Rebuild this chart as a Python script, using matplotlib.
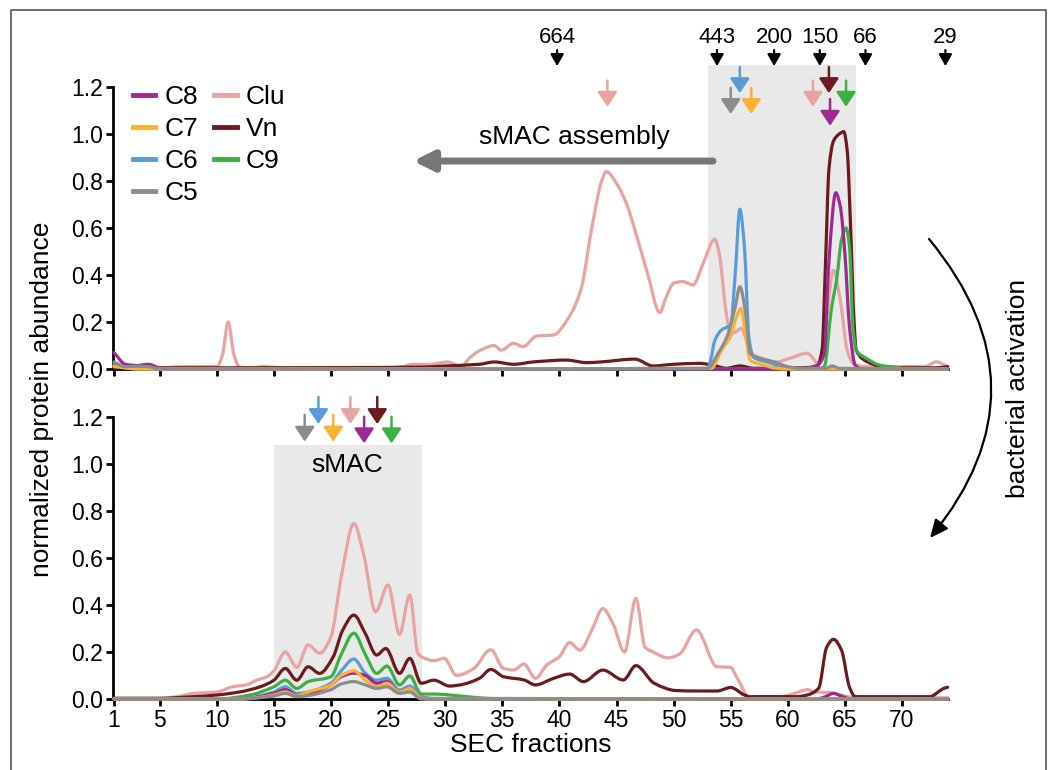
import matplotlib
matplotlib.use('Agg')
import matplotlib.pyplot as plt
from matplotlib.patches import Rectangle, FancyArrowPatch, PathPatch
from matplotlib.lines import Line2D
from matplotlib.path import Path

plt.rcParams['font.family'] = ['Liberation Sans', 'DejaVu Sans']

# ---- data: (SEC fraction, normalized abundance) ----
# upper panel (before activation)
clu_top = [(1,0.01),(2,0.005),(5,0.005),(7,0.01),(9,0.01),(10,0.01),(10.5,0.06),(11,0.20),(11.5,0.06),(12,0.008),
           (13,0.005),(14,0.01),(16,0.005),(20,0.005),(25,0.005),(26,0.008),(27.2,0.02),(28.7,0.02),(30.2,0.03),
           (31.4,0.012),(32.2,0.05),(33.1,0.08),(34.3,0.1),(34.9,0.08),(36,0.109),(36.8,0.095),(38,0.14),
           (39.5,0.145),(40.7,0.21),(41.9,0.34),(42.8,0.59),(43.7,0.80),(44.1,0.84),(45,0.79),(45.9,0.70),
           (46.8,0.56),(47.7,0.41),(48.8,0.24),(49.3,0.30),(50,0.365),(50.8,0.372),(51.7,0.358),(52.6,0.45),
           (53.6,0.553),(54,0.49),(54.6,0.24),(55,0.15),(55.5,0.16),(55.9,0.173),(56.8,0.067),(57.7,0.046),
           (59,0.03),(60.2,0.046),(61.7,0.067),(62.7,0.024),(63.3,0.18),(64,0.42),(64.6,0.29),(65.2,0.08),
           (65.8,0.02),(67,0.01),(72,0.01),(73,0.03),(74,0.01)]
vn_top = [(1,0.005),(12,0.005),(28,0.008),(30,0.013),(33,0.02),(34.3,0.03),(36,0.02),(37.7,0.03),(40.6,0.038),
          (42.4,0.027),(43.6,0.03),(46.6,0.042),(48.2,0.013),(50,0.02),(52.2,0.024),(53.4,0.017),(54.6,0.003),
          (55.8,0.013),(57,0.003),(62.5,0.008),(63,0.08),(63.3,0.45),(63.6,0.85),(64,0.97),(64.5,1.0),
          (64.9,1.01),(65.2,0.93),(65.5,0.6),(65.8,0.2),(66,0.08),(67,0.03),(68,0.012),(69,0.005),(73,0.005),(74,0.01)]
c9_top = [(1,0.02),(2,0.005),(3,0.0),(62.6,0.0),(63.2,0.01),(63.8,0.25),(64.3,0.39),(64.7,0.55),(65.1,0.6),
          (65.4,0.52),(65.7,0.18),(66,0.08),(66.9,0.045),(68,0.017),(69.5,0.007),(70.5,0.0),(74,0.0)]
c6_top = [(1,0.015),(2,0.008),(3,0.005),(4,0.0),(53,0.0),(53.3,0.05),(53.6,0.12),(54.2,0.166),(55,0.19),
          (55.4,0.408),(55.8,0.68),(56.2,0.52),(56.6,0.13),(57,0.05),(58.2,0.03),(59.7,0.007),(60.5,0.0),(74,0.0)]
c8_top = [(1,0.07),(2,0.02),(3,0.015),(4,0.02),(5,0.005),(6,0.0),(61,0.0),(62.6,0.017),(63.2,0.067),(63.6,0.46),
          (64.2,0.75),(64.6,0.69),(65,0.49),(65.4,0.18),(65.9,0.017),(66.5,0.0),(74,0.0)]
c7_top = [(1,0.01),(2,0.005),(3,0.0),(53.3,0.003),(54.2,0.08),(55,0.14),(55.5,0.22),(55.9,0.257),(56.3,0.151),
          (56.7,0.038),(57.9,0.017),(59,0.003),(60,0.0),(74,0.0)]
c5_top = [(1,0.03),(2,0.01),(3,0.012),(4,0.01),(5,0.0),(53,0.003),(53.9,0.067),(54.7,0.14),(55.4,0.265),
          (55.8,0.35),(56.3,0.24),(56.7,0.067),(57.6,0.045),(58.8,0.03),(60,0.01),(61.1,0.003),(63.3,0.003),
          (63.9,0.013),(64.5,0.003),(74,0.0)]

# lower panel (after bacterial activation)
clu_bot = [(1,0.003),(5,0.003),(6.5,0.01),(8,0.024),(10,0.03),(11.4,0.052),(12.6,0.06),(13.5,0.08),(14.4,0.095),
           (15,0.12),(16,0.20),(17,0.135),(18,0.23),(19,0.195),(20,0.265),(20.9,0.52),(22,0.747),(22.9,0.606),
           (23.9,0.371),(25,0.485),(26,0.275),(26.9,0.443),(27.6,0.195),(28.2,0.173),(29,0.163),(29.9,0.173),
           (31,0.10),(32.5,0.13),(34,0.21),(35.1,0.13),(36,0.123),(36.9,0.149),(37.9,0.088),(38.9,0.145),
           (40,0.18),(40.9,0.24),(41.8,0.208),(42.9,0.30),(43.8,0.385),(44.7,0.32),(45.7,0.20),(46.7,0.428),
           (47.5,0.22),(48.2,0.2),(49.5,0.175),(50.5,0.19),(52,0.294),(53.8,0.137),(55,0.135),(55.5,0.095),
           (56.7,0.005),(57.8,0.01),(59.3,0.01),(60.8,0.027),(61.7,0.04),(62.3,0.03),(63.7,0.027),(64.6,0.017),
           (65.8,0.006),(74,0.005)]
vn_bot = [(1,0.003),(5,0.003),(8,0.01),(10,0.017),(12,0.03),(13.8,0.052),(15,0.08),(16,0.13),(17,0.08),(18,0.137),
          (19,0.109),(20.2,0.18),(21,0.29),(22,0.357),(23,0.279),(24,0.187),(24.8,0.215),(26,0.109),(26.9,0.173),
          (27.9,0.067),(29,0.08),(30.4,0.055),(31.3,0.06),(33,0.088),(34,0.126),(35.1,0.095),(36.9,0.081),
          (37.9,0.06),(39.5,0.088),(40.9,0.106),(42.1,0.074),(43.8,0.123),(45.6,0.081),(46.7,0.142),(48.3,0.067),
          (50.2,0.036),(52,0.034),(53.8,0.034),(55,0.049),(56.2,0.017),(56.7,0.01),(60.8,0.01),(61.7,0.017),
          (62.7,0.046),(63.4,0.22),(64,0.254),(64.7,0.208),(65.4,0.05),(65.9,0.01),(72.4,0.01),(73.7,0.046),(74,0.05)]
c9_bot = [(1,0.0),(10,0.0),(12.9,0.017),(15,0.052),(16,0.08),(17,0.045),(18,0.074),(20,0.095),(20.9,0.19),
          (22,0.28),(23,0.19),(24,0.109),(24.9,0.14),(26,0.06),(26.9,0.098),(27.9,0.021),(29,0.021),(31.9,0.01),
          (33,0.005),(35,0.0),(74,0.0)]
c6_bot = [(1,0.0),(12,0.0),(15,0.03),(16,0.052),(17,0.024),(20,0.067),(20.9,0.12),(22,0.17),(23,0.11),(24,0.08),
          (24.9,0.088),(26,0.038),(26.9,0.055),(27.9,0.01),(29,0.003),(74,0.0)]
c8_bot = [(1,0.0),(12,0.0),(15,0.024),(16,0.04),(17,0.015),(20,0.06),(20.9,0.095),(22,0.11),(23,0.10),(24,0.067),
          (24.9,0.074),(26,0.03),(26.9,0.045),(27.9,0.003),(29,0.0),(62.5,0.0),(63.3,0.01),(64,0.024),(64.8,0.01),
          (65.5,0.0),(74,0.0)]
c7_bot = [(1,0.0),(12,0.0),(15,0.017),(16,0.03),(17,0.013),(18,0.03),(20,0.06),(20.9,0.10),(22,0.12),(23,0.08),
          (24,0.052),(24.9,0.067),(26,0.03),(26.9,0.045),(27.9,0.003),(29,0.0),(74,0.0)]
c5_bot = [(1,0.0),(12,0.0),(15,0.013),(16,0.024),(17,0.01),(20,0.04),(20.9,0.064),(22,0.074),(23,0.06),(24,0.045),
          (24.9,0.052),(26,0.024),(26.9,0.03),(27.9,0.0),(74,0.0)]

# names, colours (drawing order: Clu first, C5 last)
names = ['Clu', 'Vn', 'C9', 'C6', 'C8', 'C7', 'C5']
colors = {'C8': '#9c2a90', 'C7': '#f9b233', 'C6': '#5b9bd5', 'C5': '#8c8c8c',
          'Clu': '#e8a3a3', 'Vn': '#6b1a1f', 'C9': '#3cb043'}
top_series = [clu_top, vn_top, c9_top, c6_top, c8_top, c7_top, c5_top]
bot_series = [clu_bot, vn_bot, c9_bot, c6_bot, c8_bot, c7_bot, c5_bot]

# molecular weight markers (kDa) and their elution fraction
mw_labels = ['664', '443', '200', '150', '66', '29']
mw_fracs = [39.8, 53.8, 58.8, 62.8, 66.8, 73.8]

# elution peaks marked with coloured arrows: (protein, fraction, arrow top, arrow tip)
top_arrows = [('Clu', 44.2, 1.227, 1.116), ('C6', 55.8, 1.285, 1.174), ('C5', 55.0, 1.196, 1.085),
              ('C7', 56.8, 1.196, 1.085), ('Clu', 62.2, 1.227, 1.116), ('Vn', 63.6, 1.285, 1.174),
              ('C9', 65.1, 1.227, 1.116), ('C8', 63.7, 1.149, 1.035)]
bot_arrows = [('C5', 17.7, 1.209, 1.095), ('C6', 18.9, 1.285, 1.170), ('C7', 20.2, 1.209, 1.095),
              ('Clu', 21.7, 1.285, 1.170), ('C8', 22.9, 1.201, 1.088), ('Vn', 24.05, 1.285, 1.170),
              ('C9', 25.3, 1.201, 1.088)]

xticks = [1, 5, 10, 15, 20, 25, 30, 35, 40, 45, 50, 55, 60, 65, 70]
yticks = [0.0, 0.2, 0.4, 0.6, 0.8, 1.0, 1.2]

fig = plt.figure(figsize=(10.49, 7.70), dpi=100)
W, H = 1049, 770
ax1 = fig.add_axes([114/W, 1-369/H, 833.7/W, 282/H])
ax2 = fig.add_axes([114/W, 1-699/H, 833.7/W, 282/H])


def style_axis(ax, show_xlabels):
    ax.set_xlim(1, 74)
    ax.set_ylim(0, 1.2)
    for s in ['top', 'right']:
        ax.spines[s].set_visible(False)
    ax.spines['left'].set_linewidth(2)
    ax.spines['bottom'].set_linewidth(2)
    ax.spines['left'].set_position(('outward', 1))
    ax.set_xticks(xticks)
    ax.set_yticks(yticks)
    ax.set_yticklabels(['%.1f' % v for v in yticks])
    ax.tick_params(direction='out', length=5, width=2, labelsize=16.5, pad=2)
    if not show_xlabels:
        ax.set_xticklabels([])
    ax.patch.set_visible(False)


def smooth_path(pts):
    # monotone cubic curve through the points, drawn as bezier segments
    xs = [p[0] for p in pts]
    ys = [p[1] for p in pts]
    n = len(xs)
    h = [xs[i+1] - xs[i] for i in range(n-1)]
    d = [(ys[i+1] - ys[i]) / h[i] for i in range(n-1)]
    m = [0.0] * n
    m[0], m[-1] = d[0], d[-1]
    for k in range(1, n-1):
        if d[k-1] * d[k] <= 0:
            m[k] = 0.0
        else:
            w1 = 2*h[k] + h[k-1]
            w2 = h[k] + 2*h[k-1]
            m[k] = (w1 + w2) / (w1/d[k-1] + w2/d[k])
    verts = [(xs[0], ys[0])]
    codes = [Path.MOVETO]
    for i in range(n-1):
        verts += [(xs[i] + h[i]/3, ys[i] + m[i]*h[i]/3),
                  (xs[i+1] - h[i]/3, ys[i+1] - m[i+1]*h[i]/3),
                  (xs[i+1], ys[i+1])]
        codes += [Path.CURVE4] * 3
    return Path(verts, codes)


def draw_lines(ax, series):
    for name, pts in zip(names, series):
        patch = PathPatch(smooth_path(pts), fill=False, edgecolor=colors[name], lw=2.3,
                          clip_on=False, zorder=3, joinstyle='round', capstyle='round')
        ax.add_patch(patch)


def peak_arrows(ax, arrows):
    for name, fx, y0, y1 in arrows:
        ax.annotate('', xy=(fx, y1), xytext=(fx, y0), annotation_clip=False,
                    arrowprops=dict(arrowstyle='-|>,head_length=9,head_width=6', mutation_scale=1,
                                    color=colors[name], lw=1.8, shrinkA=0, shrinkB=0))


# ---- upper panel ----
style_axis(ax1, False)
ax1.add_patch(Rectangle((53, 0), 13, 1.294, color='#e9e9e9', zorder=0, clip_on=False, lw=0))
draw_lines(ax1, top_series)
peak_arrows(ax1, top_arrows)
for lab, fx in zip(mw_labels, mw_fracs):
    ax1.text(fx, 1.411, lab, ha='center', va='center', fontsize=16)
    ax1.annotate('', xy=(fx, 1.289), xytext=(fx, 1.357), annotation_clip=False,
                 arrowprops=dict(arrowstyle='-|>,head_length=7,head_width=4', mutation_scale=1,
                                 color='black', lw=1.6, shrinkA=0, shrinkB=0))
ax1.text(41.3, 0.987, 'sMAC assembly', ha='center', va='center', fontsize=19)
ax1.annotate('', xy=(27.2, 0.885), xytext=(53.45, 0.885), annotation_clip=False,
             arrowprops=dict(arrowstyle='-|>,head_length=12,head_width=6', mutation_scale=1,
                             color='#777777', lw=5, shrinkA=0, shrinkB=0))

leg_names = ['C8', 'C7', 'C6', 'C5', 'Clu', 'Vn', 'C9']
handles = [Line2D([], [], color=colors[n], lw=3.5) for n in leg_names]
fig.legend(handles, leg_names, ncol=2, frameon=False, fontsize=19,
           loc='upper left', bbox_to_anchor=(133/W, 1-85/H), handlelength=0.85, handletextpad=0.35,
           labelspacing=0.3, columnspacing=0.6, borderpad=0, borderaxespad=0)

# ---- lower panel ----
style_axis(ax2, True)
ax2.add_patch(Rectangle((15, 0), 13, 1.08, color='#e9e9e9', zorder=0, clip_on=False, lw=0))
draw_lines(ax2, bot_series)
peak_arrows(ax2, bot_arrows)
ax2.text(21.4, 0.996, 'sMAC', ha='center', va='center', fontsize=19)
ax2.set_xlabel('SEC fractions', fontsize=19, labelpad=1)

fig.text(42/W, 1-399/H, 'normalized protein abundance', rotation=90, ha='center', va='center', fontsize=19)

# curved arrow: bacterial activation
arc = FancyArrowPatch((929/W, 1-239/H), (930/W, 1-538/H), transform=fig.transFigure,
                      connectionstyle='arc3,rad=-0.41',
                      arrowstyle='-|>,head_length=11,head_width=5', mutation_scale=1,
                      color='black', lw=1.6, shrinkA=0, shrinkB=0)
fig.patches.append(arc)
fig.text(1018/W, 1-388/H, 'bacterial activation', rotation=90, ha='center', va='center', fontsize=19)

# figure frame
fig.add_artist(Line2D([11/W, 11/W, 1046/W, 1046/W], [0, 1-9.5/H, 1-9.5/H, 0],
                      transform=fig.transFigure, color='#555555', lw=1.2))

fig.savefig('out.png', dpi=100)
